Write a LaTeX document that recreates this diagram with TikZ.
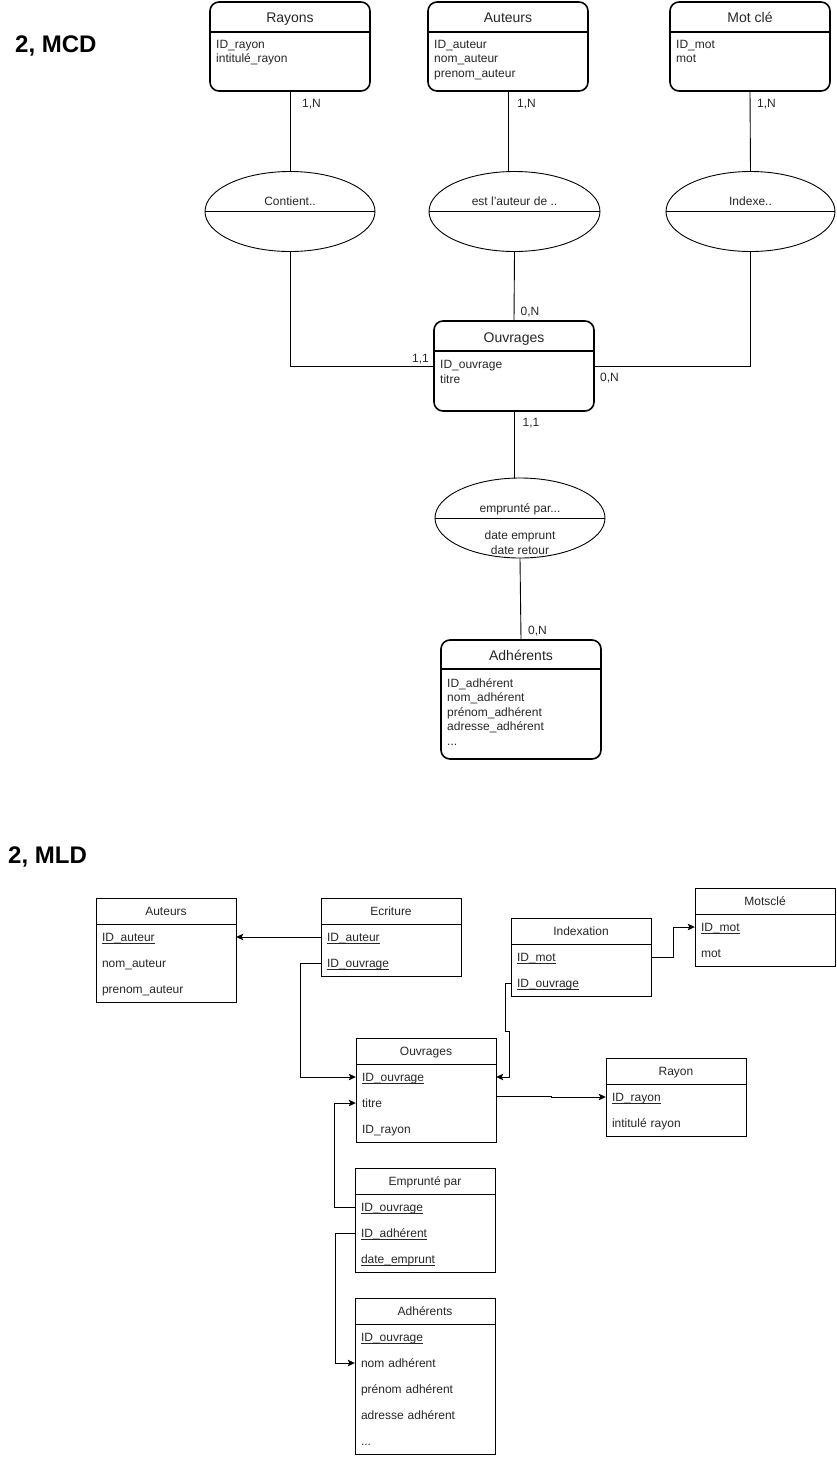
\documentclass[tikz,border=0pt]{standalone}
\usepackage{fontspec}
\setmainfont{Liberation Sans}
\usetikzlibrary{arrows.meta,shapes.geometric,calc}

% key field: underline at a fixed offset below the baseline
\newcommand{\keyfield}[1]{\setbox0\hbox{#1}\rlap{\usebox0}\rule[-1.6pt]{\wd0}{0.6pt}}

\tikzset{
  txt/.style={text=black!85, font=\fontsize{12}{14.5}\selectfont, inner sep=0pt},
  ttl/.style={txt, font=\fontsize{14}{16}\selectfont, anchor=base},
  ent/.style={draw, line width=1.6pt, rounded corners=9pt, minimum width=160pt, inner sep=0pt},
  entsep/.style={line width=1.6pt},
  attrs/.style={txt, anchor=north west, align=left},
  asso/.style={draw, ellipse, line width=0.9pt, minimum width=170pt, minimum height=80pt, inner sep=0pt},
  link/.style={line width=0.9pt},
  card/.style={txt, anchor=base west},
  tbl/.style={draw, line width=0.9pt, minimum width=140pt, inner sep=0pt},
  tblsep/.style={line width=0.9pt},
  hdr/.style={txt, text height=10.5pt, text depth=1pt},
  row/.style={txt, inner xsep=6pt, text width=128pt, text height=10.5pt, text depth=1pt, minimum height=26pt, align=left},
  fk/.style={line width=0.9pt, -{Stealth[length=7pt,width=6.5pt,inset=1.5pt]}},
  heading/.style={inner sep=0pt, anchor=base west, font=\fontsize{24}{28}\selectfont\bfseries}
}

\begin{document}
\begin{tikzpicture}[x=1pt,y=-1pt]
\useasboundingbox (0,0) rectangle (836,1457);

% ---------------- MCD ----------------
\node[heading] (mcd) at (15,52.5) {2, MCD};

% entities
\node[ent, minimum height=89pt] (rayons) at (290,46.5) {};
\draw[entsep] (rayons.west |- 0,32) -- (rayons.east |- 0,32);
\node[ttl] (rayons-t) at (290,22.5) {Rayons};
\node[attrs] (rayons-a) at (216,40) {ID\_rayon\\intitulé\_rayon};

\node[ent, minimum height=89pt] (auteurs) at (508,46.5) {};
\draw[entsep] (auteurs.west |- 0,32) -- (auteurs.east |- 0,32);
\node[ttl] (auteurs-t) at (508,22.5) {Auteurs};
\node[attrs] (auteurs-a) at (434,40) {ID\_auteur\\nom\_auteur\\prenom\_auteur};

\node[ent, minimum height=89pt] (motcle) at (750,46.5) {};
\draw[entsep] (motcle.west |- 0,32) -- (motcle.east |- 0,32);
\node[ttl] (motcle-t) at (750,22.5) {Mot clé};
\node[attrs] (motcle-a) at (676,40) {ID\_mot\\mot};

\node[ent, minimum height=90pt] (ouvrages) at (514,366) {};
\draw[entsep] (ouvrages.west |- 0,351) -- (ouvrages.east |- 0,351);
\node[ttl] (ouvrages-t) at (514,342) {Ouvrages};
\node[attrs] (ouvrages-a) at (440,360.5) {ID\_ouvrage\\titre};

\node[ent, minimum height=119pt] (adherents) at (521,699.5) {};
\draw[entsep] (adherents.west |- 0,669) -- (adherents.east |- 0,669);
\node[ttl] (adherents-t) at (521,660.5) {Adhérents};
\node[attrs] (adherents-a) at (447,678) {ID\_adhérent\\nom\_adhérent\\prénom\_adhérent\\adresse\_adhérent\\...};

% associations
\node[asso] (contient) at (290,211.5) {};
\draw[link] (contient.west) -- (contient.east);
\node[txt, anchor=base] (contient-t) at (290,205.5) {Contient..};

\node[asso, minimum width=171pt] (estaut) at (514.5,211.5) {};
\draw[link] (estaut.west) -- (estaut.east);
\node[txt, anchor=base] (estaut-t) at (514.5,205.5) {est l'auteur de ..};

\node[asso, minimum width=169pt] (indexe) at (750.5,211.5) {};
\draw[link] (indexe.west) -- (indexe.east);
\node[txt, anchor=base] (indexe-t) at (750.5,205.5) {Indexe..};

\node[asso] (emprunte) at (520,518) {};
\draw[link] (emprunte.west) -- (emprunte.east);
\node[txt, anchor=base] (emprunte-t) at (520,512.5) {emprunté par...};
\node[txt, anchor=north, align=center] (emprunte-a) at (520,531) {date emprunt\\date retour};

% links between entities and associations
\draw[link] (rayons.south) -- (contient.north);
\draw[link] (auteurs.south) -- (auteurs.south |- estaut.north);
\draw[link] (motcle.south) -- (indexe.north);
\draw[link] (contient.south) |- (ouvrages.west);
\draw[link] (estaut.south) -- (ouvrages.north);
\draw[link] (indexe.south) |- (ouvrages.east);
\draw[link] (ouvrages.south) -- (ouvrages.south |- emprunte.north);
\draw[link] (emprunte.south) -- (adherents.north);

% cardinalities
\node[card] (c1) at (302,107.5) {1,N};
\node[card] (c2) at (517,107.5) {1,N};
\node[card] (c3) at (757,107.5) {1,N};
\node[card] (c4) at (520.5,315.5) {0,N};
\node[card] (c5) at (412,362.5) {1,1};
\node[card] (c6) at (600,381.5) {0,N};
\node[card] (c7) at (522.5,426) {1,1};
\node[card] (c8) at (528,634) {0,N};

% ---------------- MLD ----------------
\node[heading] (mld) at (8,863) {2, MLD};

% Auteurs
\node[tbl, minimum height=104pt] (t-aut) at (166,950) {};
\draw[tblsep] (t-aut.west |- 0,924) -- (t-aut.east |- 0,924);
\node[hdr] (aut-h) at (166,911) {Auteurs};
\node[row] (aut1) at (166,937) {\keyfield{ID\_auteur}};
\node[row] (aut2) at (166,963) {nom\_auteur};
\node[row] (aut3) at (166,989) {prenom\_auteur};

% Ecriture
\node[tbl, minimum height=78pt] (t-ecr) at (391,937) {};
\draw[tblsep] (t-ecr.west |- 0,924) -- (t-ecr.east |- 0,924);
\node[hdr] (ecr-h) at (391,911) {Ecriture};
\node[row] (ecr1) at (391,937) {\keyfield{ID\_auteur}};
\node[row] (ecr2) at (391,963) {\keyfield{ID\_ouvrage}};

% Indexation
\node[tbl, minimum height=78pt] (t-idx) at (581,957) {};
\draw[tblsep] (t-idx.west |- 0,944) -- (t-idx.east |- 0,944);
\node[hdr] (idx-h) at (581,931) {Indexation};
\node[row] (idx1) at (581,957) {\keyfield{ID\_mot}};
\node[row] (idx2) at (581,983) {\keyfield{ID\_ouvrage}};

% Motsclé
\node[tbl, minimum height=78pt] (t-mot) at (765,927) {};
\draw[tblsep] (t-mot.west |- 0,914) -- (t-mot.east |- 0,914);
\node[hdr] (mot-h) at (765,901) {Motsclé};
\node[row] (mot1) at (765,927) {\keyfield{ID\_mot}};
\node[row] (mot2) at (765,953) {mot};

% Ouvrages
\node[tbl, minimum height=104pt] (t-ouv) at (426,1090) {};
\draw[tblsep] (t-ouv.west |- 0,1064) -- (t-ouv.east |- 0,1064);
\node[hdr] (ouv-h) at (426,1051) {Ouvrages};
\node[row] (ou1) at (426,1077) {\keyfield{ID\_ouvrage}};
\node[row] (ou2) at (426,1103) {titre};
\node[row] (ou3) at (426,1129) {ID\_rayon};

% Rayon
\node[tbl, minimum height=78pt] (t-ray) at (676,1097) {};
\draw[tblsep] (t-ray.west |- 0,1084) -- (t-ray.east |- 0,1084);
\node[hdr] (ray-h) at (676,1071) {Rayon};
\node[row] (ray1) at (676,1097) {\keyfield{ID\_rayon}};
\node[row] (ray2) at (676,1123) {intitulé rayon};

% Emprunté par
\node[tbl, minimum height=104pt] (t-emp) at (425,1220) {};
\draw[tblsep] (t-emp.west |- 0,1194) -- (t-emp.east |- 0,1194);
\node[hdr] (emp-h) at (425,1181) {Emprunté par};
\node[row] (emp1) at (425,1207) {\keyfield{ID\_ouvrage}};
\node[row] (emp2) at (425,1233) {\keyfield{ID\_adhérent}};
\node[row] (emp3) at (425,1259) {\keyfield{date\_emprunt}};

% Adhérents
\node[tbl, minimum height=156pt] (t-adh) at (425,1376) {};
\draw[tblsep] (t-adh.west |- 0,1324) -- (t-adh.east |- 0,1324);
\node[hdr] (adh-h) at (425,1311) {Adhérents};
\node[row] (adh1) at (425,1337) {\keyfield{ID\_ouvrage}};
\node[row] (adh2) at (425,1363) {nom adhérent};
\node[row] (adh3) at (425,1389) {prénom adhérent};
\node[row] (adh4) at (425,1415) {adresse adhérent};
\node[row] (adh5) at (425,1441) {...};

% foreign keys
\draw[fk] (ecr1.west) -- (aut1.east);
\draw[fk] (ecr2.west) -- ++(-20,0) |- (ou1.west);
\draw[fk] (idx1.east) -- ++(22,0) |- (mot1.west);
\draw[fk] (idx2.west) -- ++(-5,0) -- ++(0,48) -- ++(4,0) |- (ou1.east);
\draw[fk] ([yshift=-6pt]t-ouv.east) -- ++(55,0) |- (ray1.west);
\draw[fk] (emp1.west) -- ++(-20,0) |- (ou2.west);
\draw[fk] (emp2.west) -- ++(-19,0) |- (adh2.west);
\end{tikzpicture}
\end{document}
